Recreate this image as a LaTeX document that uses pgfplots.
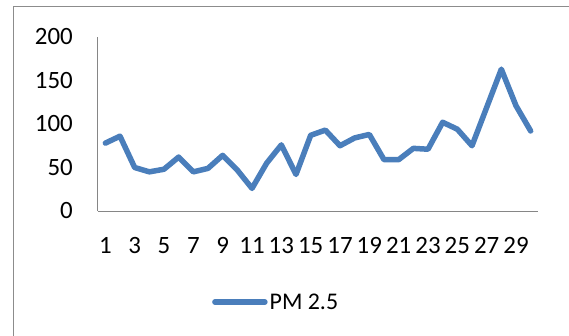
\documentclass[border=0pt]{standalone}
\usepackage{pgfplots}
\pgfplotsset{compat=1.18}
\usepackage{fontspec}
\setmainfont{Carlito}
\definecolor{pmblue}{RGB}{74,126,187}
\definecolor{axisgray}{RGB}{134,134,134}
\definecolor{framegray}{RGB}{140,140,140}

\pgfplotstableread{
day pm
1 78
2 86
3 50
4 45
5 48
6 62
7 45
8 49
9 64
10 47
11 26
12 55
13 76
14 42
15 87
16 93
17 75
18 84
19 88
20 59
21 59
22 72
23 71
24 102
25 94
26 75
27 119
28 163
29 121
30 92
}\pmdata

\begin{document}
\begin{tikzpicture}
\useasboundingbox (-98bp,-125bp) rectangle (471bp,211bp);
\draw[framegray, line width=1bp] (-84bp,-125bp) -- (-84bp,204bp) -- (471bp,204bp);
\begin{axis}[
  at={(0,0)}, anchor=origin,
  scale only axis,
  width=440bp, height=174bp,
  xmin=0.5, xmax=30.5,
  ymin=0, ymax=200,
  axis lines*=left,
  axis line style={axisgray, line width=1bp},
  xtick={1,3,...,29},
  ytick={0,50,...,200},
  major tick length=0pt,
  /pgf/number format/assume math mode=true,
  tick label style={font=\fontsize{25}{29}\selectfont, inner sep=0pt, text=black},
  xticklabel style={anchor=north, yshift=-26bp},
  yticklabel style={anchor=east, xshift=-25bp},
  legend style={
    at={(0.259,-0.523)}, anchor=west,
    draw=none, fill=none, inner sep=0pt,
    font=\fontsize{24}{28}\selectfont,
  },
  legend image code/.code={\draw[#1] (0bp,0bp) -- (50bp,0bp);},
  legend cell align=left,
]
\addplot[pmblue, line width=5.5bp, line join=round, line cap=round] table[x=day, y=pm] {\pmdata};
\addlegendentry{PM 2.5}
\end{axis}
\end{tikzpicture}
\end{document}
